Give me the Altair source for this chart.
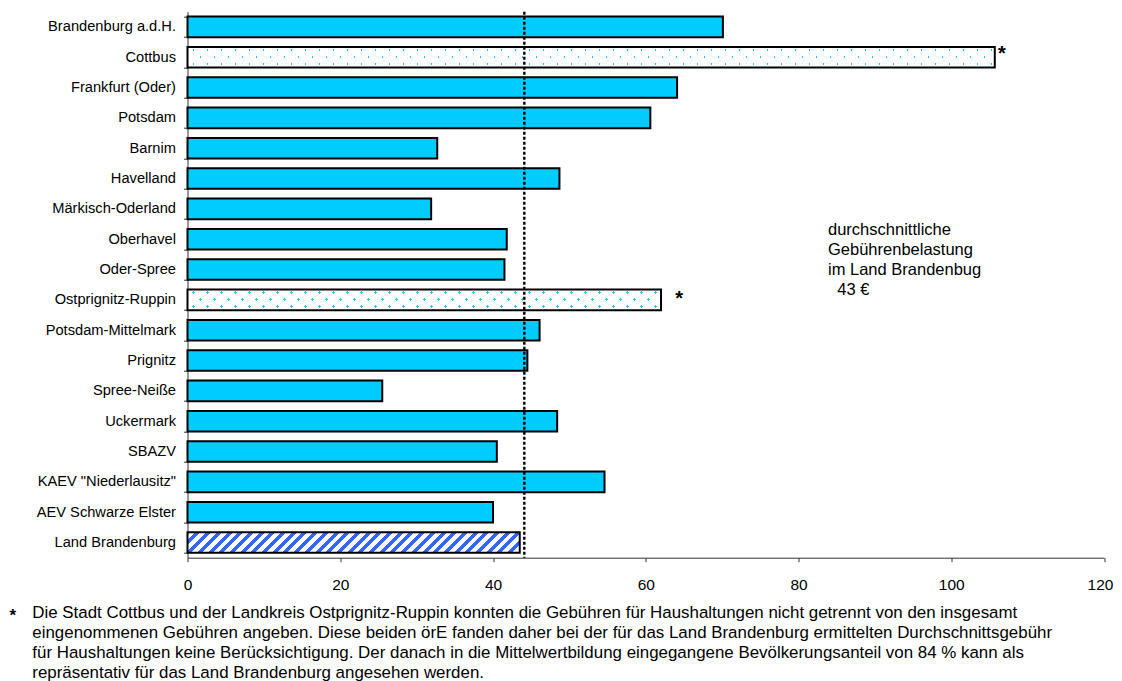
import math
import altair as alt
import pandas as pd

# ---------------- data ----------------
regions = [
    "Brandenburg a.d.H.", "Cottbus", "Frankfurt (Oder)", "Potsdam", "Barnim", "Havelland",
    "Märkisch-Oderland", "Oberhavel", "Oder-Spree", "Ostprignitz-Ruppin", "Potsdam-Mittelmark",
    "Prignitz", "Spree-Neiße", "Uckermark", "SBAZV", 'KAEV "Niederlausitz"', "AEV Schwarze Elster",
    "Land Brandenburg",
]
fees = [70.1, 105.7, 64.1, 60.6, 32.7, 48.7, 31.9, 41.8, 41.5, 62.0, 46.1, 44.5, 25.5, 48.4,
        40.5, 54.6, 40.0, 43.5]
patterns = ["solid", "dotted", "solid", "solid", "solid", "solid", "solid", "solid", "solid",
            "dotted", "solid", "solid", "solid", "solid", "solid", "solid", "solid", "striped"]
average_fee = [44.1]
x_ticks = [0, 20, 40, 60, 80, 100, 120]
annotation_lines = ["durchschnittliche", "Gebührenbelastung", "im Land Brandenbug"]
annotation_value = ["43 €"]
footnote_lines = [
    "Die Stadt Cottbus und der Landkreis Ostprignitz-Ruppin konnten die Gebühren für Haushaltungen nicht getrennt von den insgesamt",
    "eingenommenen Gebühren angeben. Diese beiden örE fanden daher bei der für das Land Brandenburg ermittelten Durchschnittsgebühr",
    "für Haushaltungen keine Berücksichtigung. Der danach in die Mittelwertbildung eingegangene Bevölkerungsanteil von 84 % kann als",
    "repräsentativ für das Land Brandenburg angesehen werden.",
]

# ---------------- layout / style ----------------
FONT = "Liberation Sans"
W, H = 916.5, 546
X_MAX = 120
PAD_INNER, PAD_OUTER = 0.32, 0.16
step = H / (len(regions) - PAD_INNER + 2 * PAD_OUTER)
bar_h = step * (1 - PAD_INNER)
CYAN = "#00ccff"
DOT = "#1ec4ff"
BLUE = "#3366ff"
CLEAR = "rgba(255,255,255,0)"
X_LABEL_SIZE = 15.5
X_TICK, X_LABEL_PAD = 4, 16


def stripe_stops(L, period, width, on, off, center):
    edges = []
    k = math.floor((-center - width) / period)
    while True:
        c = center + k * period
        a, b = c - width / 2, c + width / 2
        if a > L:
            break
        if b >= 0:
            edges.append((max(a, 0.0), min(b, L)))
        k += 1
    stops = []

    def add(s, col):
        stops.append(alt.GradientStop(offset=round(min(max(s, 0.0), L) / L, 6), color=col))

    cur = 0.0
    for a, b in edges:
        if a > cur:
            add(cur, off)
            add(a, off)
        add(a, on)
        add(b, on)
        cur = b
    if cur < L:
        add(cur, off)
        add(L, off)
    return stops


def diag_gradient(w, h, direction, period, width, on, off, center):
    L = w + h
    k = L / (w * w + h * h)
    if direction == "up":
        x1, y1, x2, y2 = 0, 0, k * w, k * h
    else:
        x1, y1, x2, y2 = 0, 1, k * w, 1 - k * h
    return alt.Gradient(gradient="linear", x1=x1, y1=y1, x2=x2, y2=y2,
                        stops=stripe_stops(L, period, width, on, off, center))


df = pd.DataFrame({"region": regions, "fee": fees, "pattern": patterns})

x_enc = alt.X(
    "fee:Q",
    scale=alt.Scale(domain=[0, X_MAX], nice=False, zero=True),
    axis=alt.Axis(values=x_ticks, title=None, grid=False, labelFontSize=X_LABEL_SIZE,
                  labelPadding=X_LABEL_PAD, tickSize=X_TICK, format="d", labelFlush=False,
                  labelExpr=f"datum.value == {x_ticks[-1]} ? '' : datum.label"),
)
y_enc = alt.Y(
    "region:N",
    sort=regions,
    scale=alt.Scale(paddingInner=PAD_INNER, paddingOuter=PAD_OUTER),
    axis=alt.Axis(title=None, tickBand="extent", labelFontSize=14.67, labelPadding=8,
                  tickSize=4, labelLimit=300),
)

base = alt.Chart(df).encode(x=x_enc, y=y_enc)

layers = [
    base.mark_bar().encode(
        fill=alt.Fill("pattern:N",
                      scale=alt.Scale(domain=["solid", "dotted", "striped"],
                                      range=[CYAN, "#ffffff", "#ffffff"]),
                      legend=None)
    )
]

for region, fee, pat in zip(regions, fees, patterns):
    if pat == "solid":
        continue
    w = fee / X_MAX * W
    sub = base.transform_filter(alt.datum.region == region)
    if pat == "dotted":
        layers.append(sub.mark_bar(fill=diag_gradient(w, bar_h, "up", 14, 2.7, DOT, "#ffffff", 9)))
        layers.append(sub.mark_bar(fill=diag_gradient(w, bar_h, "down", 14, 2.7, CLEAR, "#ffffff", 3 + bar_h)))
    else:
        layers.append(sub.mark_bar(fill=diag_gradient(w, bar_h, "up", 10.7, 5.0, BLUE, "#ffffff", 0)))

layers.append(base.mark_bar(fillOpacity=0, stroke="#000000", strokeWidth=2))

layers.append(
    alt.Chart(pd.DataFrame({"fee": average_fee}))
    .mark_rule(color="#000000", strokeWidth=2.4, strokeDash=[3, 2])
    .encode(x=alt.X("fee:Q"))
)

star_style = dict(text="*", font=FONT, fontSize=20, fontWeight="bold", align="center",
                  baseline="alphabetic", color="#000000")
layers.append(base.transform_filter(alt.datum.region == "Cottbus").mark_text(dx=7, dy=3, **star_style))
layers.append(base.transform_filter(alt.datum.region == "Ostprignitz-Ruppin").mark_text(dx=18, dy=5, **star_style))

# last x tick label, nudged a few pixels so it stays inside the page
layers.append(
    alt.Chart(pd.DataFrame({"fee": [x_ticks[-1]]}))
    .mark_text(align="center", baseline="top", font=FONT, fontSize=X_LABEL_SIZE,
               color="#000000", dx=-3.5)
    .encode(x=alt.X("fee:Q"), y=alt.value(H + X_TICK + X_LABEL_PAD), text=alt.Text("fee:Q", format="d"))
)

one = pd.DataFrame({"k": [0]})
text_style = dict(align="left", baseline="alphabetic", font=FONT, fontSize=16.5,
                  lineHeight=20, color="#000000")
layers.append(
    alt.Chart(one).mark_text(**text_style)
    .encode(x=alt.value(640.5), y=alt.value(223), text=alt.value(annotation_lines))
)
layers.append(
    alt.Chart(one).mark_text(**text_style)
    .encode(x=alt.value(649.8), y=alt.value(283.5), text=alt.value(annotation_value[0]))
)
layers.append(
    alt.Chart(one).mark_text(align="left", baseline="alphabetic", font=FONT, fontSize=16.9,
                             lineHeight=20, color="#000000")
    .encode(x=alt.value(-155.2), y=alt.value(606.6), text=alt.value(footnote_lines))
)
layers.append(
    alt.Chart(one).mark_text(align="left", baseline="alphabetic", font=FONT, fontSize=17,
                             fontWeight="bold", color="#000000")
    .encode(x=alt.value(-178), y=alt.value(609), text=alt.value("*"))
)

chart = (
    alt.layer(*layers)
    .properties(
        width=W,
        height=H,
        autosize=alt.AutoSizeParams(type="none"),
        padding={"left": 179.5, "top": 3.7, "right": 10, "bottom": 123.3},
        background="white",
    )
    .configure_view(stroke=None)
    .configure_axis(labelFont=FONT, labelColor="#000000", domainColor="#333333",
                    tickColor="#333333", domainWidth=1, tickWidth=1)
)

chart.save("out.html", embed_options={"renderer": "svg", "actions": False})
